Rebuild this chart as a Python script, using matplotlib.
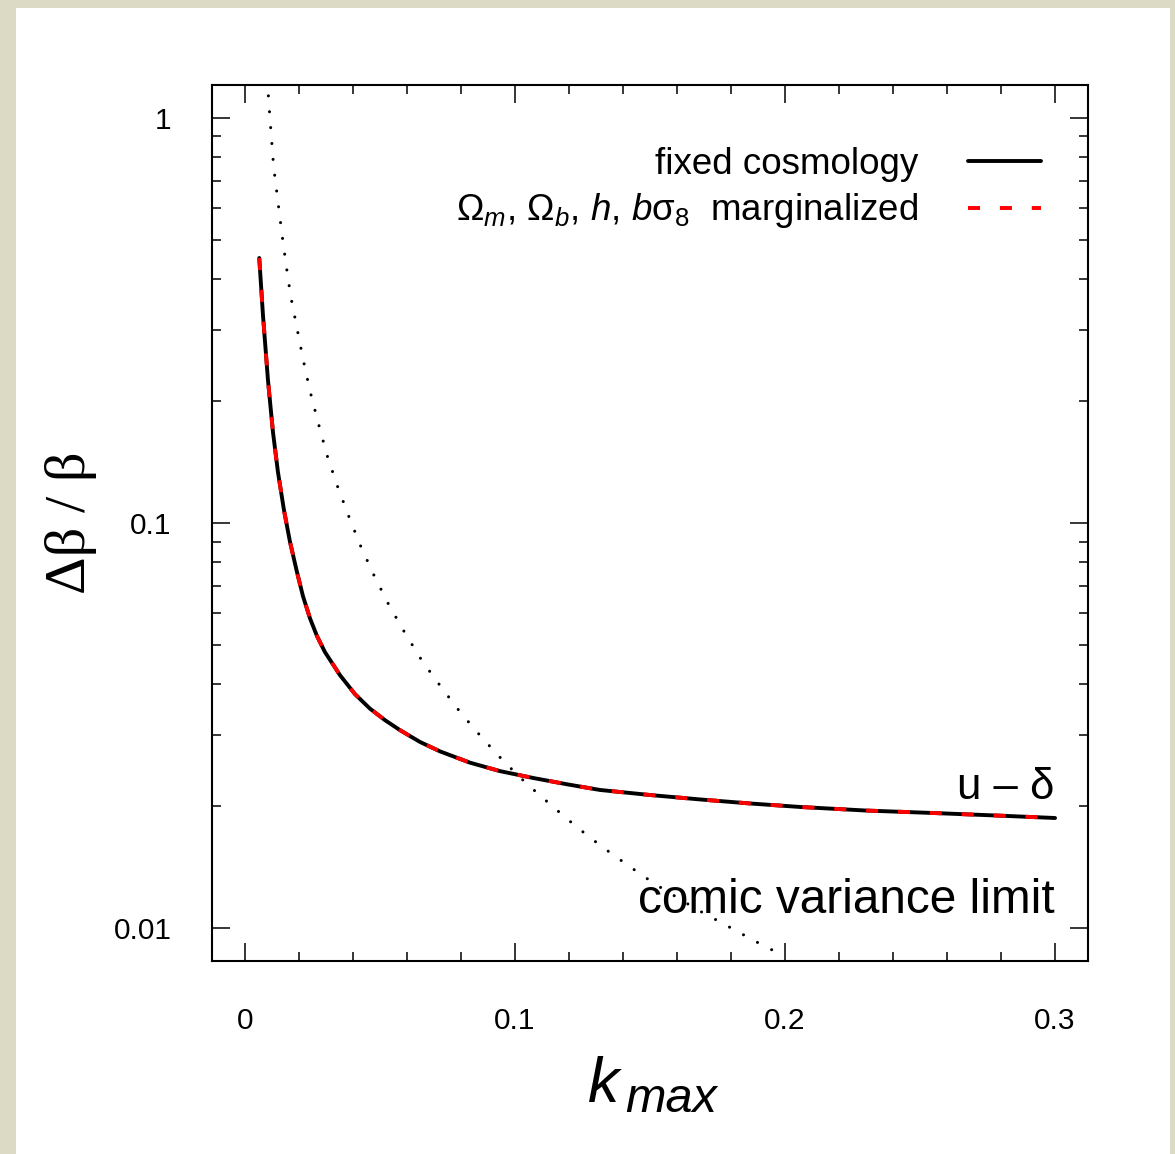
import numpy as np
import matplotlib
matplotlib.use("Agg")
import matplotlib.pyplot as plt
from matplotlib.patches import Rectangle
from matplotlib.ticker import FixedLocator, NullFormatter

plt.rcParams['font.family'] = ['Liberation Sans', 'DejaVu Sans']
plt.rcParams['mathtext.fontset'] = 'custom'
plt.rcParams['mathtext.rm'] = 'Liberation Sans'
plt.rcParams['mathtext.it'] = 'Liberation Sans:italic'
plt.rcParams['mathtext.bf'] = 'Liberation Sans:bold'

# u - delta forecast, error on beta vs k_max
k_curve = [0.0053, 0.00667, 0.00852, 0.01037, 0.01222, 0.01444, 0.01667, 0.01926,
           0.02148, 0.02407, 0.02667, 0.02963, 0.03519, 0.04074, 0.0463, 0.05185,
           0.05741, 0.06481, 0.07222, 0.08333, 0.09444, 0.10667, 0.11926, 0.13148,
           0.15, 0.16852, 0.18704, 0.20556, 0.23, 0.2548, 0.27963, 0.3]
err_fixed = [0.451, 0.3263, 0.2254, 0.1678, 0.1336, 0.1077, 0.0899, 0.0757,
             0.0660, 0.0582, 0.0526, 0.0480, 0.0421, 0.0378, 0.0348, 0.0326,
             0.0308, 0.0288, 0.0273, 0.0256, 0.0244, 0.02347, 0.02264, 0.02192,
             0.02130, 0.02077, 0.02030, 0.01990, 0.01950, 0.01923, 0.01894, 0.01869]
err_marg = list(err_fixed)

# cosmic variance limit
k_cv = [0.00826, 0.00926, 0.01063, 0.01211, 0.01359, 0.01519, 0.01693, 0.01926,
        0.02159, 0.02419, 0.02715, 0.03037, 0.03419, 0.03841, 0.04285, 0.04789,
        0.05333, 0.05926, 0.06556, 0.07259, 0.07989, 0.08778, 0.09604, 0.10444,
        0.11359, 0.12285, 0.13222, 0.14222, 0.15185, 0.1673, 0.17815, 0.18863, 0.2]
err_cv = [1.241, 0.998, 0.757, 0.630, 0.524, 0.436, 0.3635, 0.303, 0.2526, 0.2106,
          0.1766, 0.1472, 0.1236, 0.1040, 0.0877, 0.0740, 0.0627, 0.0535, 0.0457,
          0.0394, 0.0340, 0.0295, 0.0257, 0.02268, 0.02005, 0.01776, 0.01587,
          0.01422, 0.01284, 0.01112, 0.01016, 0.00930, 0.00850]

xticks = [0, 0.1, 0.2, 0.3]
xticklabels = ['0', '0.1', '0.2', '0.3']
yticks = [0.01, 0.1, 1]
yticklabels = ['0.01', '0.1', '1']

fig = plt.figure(figsize=(11.75, 11.54), dpi=100)
fig.patch.set_facecolor('#dcdac4')
fig.patches.append(Rectangle((16 / 1175, 0), 1154 / 1175, 1146 / 1154,
                             transform=fig.transFigure, facecolor='white',
                             edgecolor='none', zorder=-10))

ax = fig.add_axes([212 / 1175, 193 / 1154, 876 / 1175, 876 / 1154])
ax.set_zorder(5)

l1, = ax.plot(k_curve, err_fixed, color='black', lw=2.8, solid_capstyle='round',
              label='fixed cosmology')
l2, = ax.plot(k_curve, err_marg, color='red', lw=2.8, dashes=(3.1, 5.1),
              label=r'$\Omega_m$, $\Omega_b$, $h$, $b\mathrm{\sigma}_8$  marginalized')
ax.plot(k_cv, err_cv, color='black', lw=2.2, linestyle=(0, (0.01, 5.2)),
        dash_capstyle='round')

ax.set_yscale('log')
ax.set_xlim(-0.0122, 0.3122)
ax.set_ylim(0.00829, 1.206)

ax.set_xticks(xticks)
ax.set_xticklabels(xticklabels)
ax.xaxis.set_minor_locator(FixedLocator(np.arange(0, 0.301, 0.02)))
ax.set_yticks(yticks)
ax.set_yticklabels(yticklabels)
ax.yaxis.set_minor_locator(FixedLocator([m * d for d in (0.01, 0.1) for m in range(2, 10)]))
ax.yaxis.set_minor_formatter(NullFormatter())

ax.tick_params(which='both', direction='in', top=True, right=True, width=1.1)
ax.tick_params(which='major', length=13, labelsize=21.5)
ax.tick_params(axis='y', which='major', pad=29)
ax.tick_params(axis='x', which='major', pad=33)
ax.tick_params(which='minor', length=6.5)
for s in ax.spines.values():
    s.set_linewidth(1.5)

# x label: big italic k with a larger-than-mathtext subscript
ax.text(0.429, -0.161, 'k', transform=ax.transAxes, ha='left', va='baseline',
        fontsize=45, style='italic')
ax.text(0.4715, -0.1724, 'max', transform=ax.transAxes, ha='left', va='baseline',
        fontsize=35, style='italic')
ax.set_ylabel('Δβ / β', fontsize=42, family=['Liberation Serif', 'DejaVu Serif'])
ax.yaxis.set_label_coords(-0.131, 0.5)

ax.text(0.962, 0.185, 'u – δ', transform=ax.transAxes, ha='right', va='baseline',
        fontsize=31.5)
ax.text(0.962, 0.0548, 'comic variance limit', transform=ax.transAxes, ha='right',
        va='baseline', fontsize=34.4)

ax.legend(handles=[l1, l2], loc='upper right', bbox_to_anchor=(0.946, 0.929),
          frameon=False, markerfirst=False, handlelength=1.97, handletextpad=1.35,
          borderpad=0, borderaxespad=0, labelspacing=0.25, fontsize=26.5)

fig.savefig('out.png', dpi=100, facecolor=fig.get_facecolor())
